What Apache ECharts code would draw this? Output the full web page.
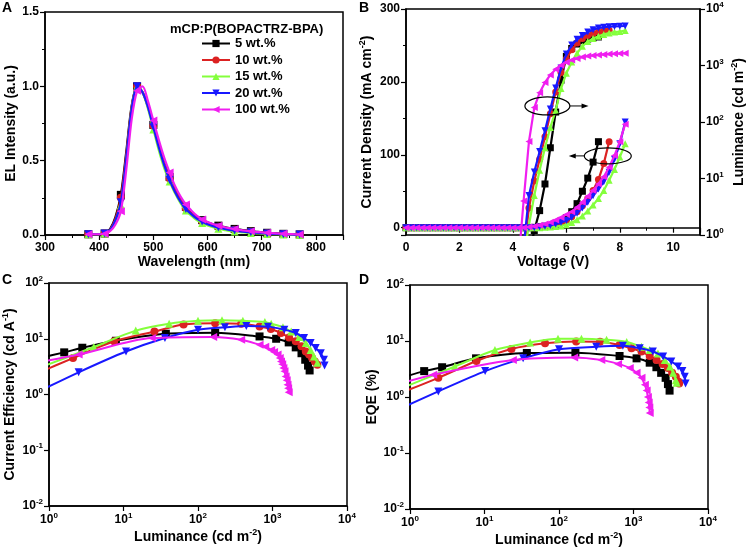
<!DOCTYPE html>
<html lang="en">
<head>
<meta charset="UTF-8">
<title>mCP:P(BOPACTRZ-BPA) devices</title>
<script src="https://cdn.jsdelivr.net/npm/echarts@6/dist/echarts.min.js"></script>
<style>body { margin: 0; background: #fff; }</style>
</head>
<body>
<div id="main" style="width: 747px; height: 548px"></div>
<script>
var names = ['5 wt.%', '10 wt.%', '15 wt.%', '20 wt.%', '100 wt.%'];
var colors = ['#000000', '#dc2222', '#84ff3c', '#1818ff', '#f01ef0'];
var symbols = ['rect', 'circle', 'triangle', 'triangle', 'triangle'];
var rotates = [0, 0, 0, 180, 90];

// A: EL spectra (10 nm steps, markers every 30 nm)
var wavelength = [380, 390, 400, 410, 420, 430, 440, 450, 460, 470, 480, 490, 500, 510, 520, 530, 540, 550, 560, 570,
    580, 590, 600, 610, 620, 630, 640, 650, 660, 670, 680, 690, 700, 710, 720, 730, 740, 750, 760, 770];
var elBlack = [0.005, 0.005, 0.005, 0.01, 0.04, 0.12, 0.27, 0.56, 0.87, 1.0, 0.96, 0.87, 0.74, 0.61, 0.49, 0.39, 0.31, 0.24, 0.19, 0.155,
    0.125, 0.10, 0.085, 0.072, 0.063, 0.055, 0.047, 0.041, 0.036, 0.031, 0.026, 0.022, 0.018, 0.015, 0.012, 0.01, 0.008, 0.006, 0.005, 0.004];
var elRed = [0.005, 0.005, 0.005, 0.01, 0.035, 0.11, 0.25, 0.54, 0.86, 1.0, 0.96, 0.86, 0.735, 0.60, 0.48, 0.38, 0.30, 0.235, 0.18, 0.145,
    0.115, 0.095, 0.078, 0.066, 0.056, 0.048, 0.041, 0.035, 0.03, 0.026, 0.022, 0.018, 0.015, 0.012, 0.01, 0.008, 0.006, 0.005, 0.004, 0.003];
var elGreen = [0.005, 0.005, 0.005, 0.01, 0.03, 0.09, 0.20, 0.50, 0.85, 1.0, 0.96, 0.85, 0.71, 0.57, 0.45, 0.36, 0.28, 0.215, 0.165, 0.13,
    0.10, 0.08, 0.064, 0.052, 0.042, 0.035, 0.028, 0.023, 0.019, 0.016, 0.013, 0.011, 0.009, 0.007, 0.006, 0.005, 0.004, 0.003, 0.003, 0.002];
var elBlue = [0.005, 0.005, 0.005, 0.01, 0.032, 0.10, 0.22, 0.52, 0.85, 1.0, 0.96, 0.86, 0.725, 0.59, 0.47, 0.37, 0.29, 0.225, 0.175, 0.14,
    0.11, 0.09, 0.072, 0.06, 0.05, 0.042, 0.035, 0.03, 0.025, 0.021, 0.018, 0.015, 0.012, 0.01, 0.008, 0.007, 0.005, 0.004, 0.003, 0.003];
var elMagenta = [0.005, 0.005, 0.005, 0.008, 0.025, 0.07, 0.16, 0.44, 0.78, 0.97, 1.0, 0.90, 0.77, 0.64, 0.52, 0.42, 0.33, 0.26, 0.205, 0.165,
    0.13, 0.105, 0.088, 0.074, 0.063, 0.054, 0.046, 0.04, 0.034, 0.029, 0.025, 0.021, 0.018, 0.015, 0.012, 0.01, 0.008, 0.006, 0.005, 0.004];

// B: current density (mA/cm2) at each voltage step
var volts = [0, 0.2, 0.4, 0.6, 0.8, 1.0, 1.2, 1.4, 1.6, 1.8, 2.0, 2.2, 2.4, 2.6, 2.8, 3.0, 3.2, 3.4, 3.6, 3.8, 4.0,
    4.2, 4.4, 4.6, 4.8, 5.0, 5.2, 5.4, 5.6, 5.8, 6.0, 6.2, 6.4, 6.6, 6.8, 7.0, 7.2, 7.4, 7.6, 7.8, 8.0, 8.2];
var jBlack = [0, 0, 0, 0, 0, 0, 0, 0, 0, 0, 0, 0, 0, 0, 0, 0, 0, 0, 0, 0, 0, 0, 0, 0,
    0.5, 1, 2, 3, 5, 9, 14, 22, 33, 50, 68, 90, 118];
var jRed = [0, 0, 0, 0, 0, 0, 0, 0, 0, 0, 0, 0, 0, 0, 0, 0, 0, 0, 0, 0, 0, 0, 0, 0, 0,
    1, 1.5, 3, 4.5, 7, 10, 15, 22, 30, 40, 51, 66, 88, 118];
var jGreen = [0, 0, 0, 0, 0, 0, 0, 0, 0, 0, 0, 0, 0, 0, 0, 0, 0, 0, 0, 0, 0, 0, 0, 0, 0, 0,
    0.5, 1, 1.5, 2.5, 4, 7, 11, 16, 23, 31, 40, 51, 65, 80, 97, 115];
var jBlue = [0, 0, 0, 0, 0, 0, 0, 0, 0, 0, 0, 0, 0, 0, 0, 0, 0, 0, 0, 0, 0, 0, 0, 0, 0,
    1, 2, 3, 5, 7, 10, 14, 20, 27, 35, 44, 53, 63, 76, 94, 115, 145];
var jMagenta = [0, 0, 0, 0, 0, 0, 0, 0, 0, 0, 0, 0, 0, 0, 0, 0, 0, 0, 0, 0, 0, 0, 0,
    1, 2, 3.5, 5, 7.5, 10.5, 14, 18, 22, 28, 35, 43, 51, 60, 70, 83, 99, 118, 142];

// B: luminance (cd/m2) vs voltage
var lBlack = [[4.6, 0.4], [4.8, 1.2], [5.0, 2.7], [5.2, 8], [5.4, 35], [5.6, 150], [5.8, 550], [6.0, 1450],
    [6.2, 2000], [6.4, 2400], [6.6, 2750], [6.8, 2950], [7.0, 3100], [7.2, 3200]];
var lRed = [[4.4, 0.5], [4.6, 3], [4.8, 9], [5.0, 22], [5.2, 55], [5.4, 140], [5.6, 340], [5.8, 750], [6.0, 1300],
    [6.2, 1900], [6.4, 2500], [6.6, 3000], [6.8, 3400], [7.0, 3700], [7.2, 3900], [7.4, 4100], [7.6, 4200]];
var lGreen = [[4.4, 0.4], [4.6, 1.5], [4.8, 5], [5.0, 14], [5.2, 35], [5.4, 80], [5.6, 160], [5.8, 390], [6.0, 730],
    [6.2, 1150], [6.4, 1650], [6.6, 2200], [6.8, 2650], [7.0, 3000], [7.2, 3300], [7.4, 3550], [7.6, 3750],
    [7.8, 3900], [8.0, 4000], [8.2, 4150]];
var lBlue = [[4.4, 0.6], [4.6, 5], [4.8, 13], [5.0, 30], [5.2, 70], [5.4, 170], [5.6, 400], [5.8, 900], [6.0, 1600],
    [6.2, 2300], [6.4, 2900], [6.6, 3400], [6.8, 3900], [7.0, 4300], [7.2, 4600], [7.4, 4750], [7.6, 4850],
    [7.8, 4900], [8.0, 4950], [8.2, 5000]];
var lMagenta = [[4.2, 0.3], [4.4, 4], [4.6, 45], [4.8, 180], [5.0, 330], [5.2, 500], [5.4, 680], [5.6, 860], [5.8, 1010],
    [6.0, 1140], [6.2, 1250], [6.4, 1330], [6.6, 1410], [6.8, 1470], [7.0, 1510], [7.2, 1540], [7.4, 1570],
    [7.6, 1590], [7.8, 1610], [8.0, 1630], [8.2, 1650]];

// C: current efficiency (cd/A) vs luminance
var ceBlack = [[0.6, 4.2], [1.6, 5.7], [2.8, 6.9], [7.9, 9.2], [37, 12.3], [170, 12.8], [670, 11], [1120, 10],
    [1650, 8.6], [2050, 7], [2450, 5.5], [2750, 4.2], [3000, 3.3], [3150, 2.7]];
var ceRed = [[0.6, 2.2], [2.1, 4.5], [7.5, 9], [26, 13.5], [64, 18], [170, 19], [380, 18.5], [670, 16.6], [950, 15],
    [1300, 12.7], [1670, 10.5], [2050, 9], [2450, 7.3], [2800, 5.9], [3100, 5.2], [3400, 4.5], [3700, 3.9], [4000, 3.4]];
var ceGreen = [[0.6, 2.7], [4, 7.1], [14.6, 14], [41, 18.6], [100, 21], [210, 21.5], [400, 21], [790, 20], [960, 18.6],
    [1380, 16], [1780, 13.5], [2280, 10.7], [2800, 8.4], [3250, 6.3], [3600, 4.8], [4000, 3.7]];
var ceBlue = [[0.6, 1.0], [2.5, 2.5], [10.8, 5.9], [36, 10.3], [100, 14.5], [230, 16], [445, 17], [870, 16.5],
    [1440, 14.5], [2050, 12.7], [2650, 10.3], [3250, 8.4], [3800, 6.8], [4450, 5.5], [4900, 4.2], [5000, 3.3]];
var ceMagenta = [[0.6, 3.6], [2.5, 5.2], [24, 10.3], [160, 10.8], [380, 9.6], [670, 7.8], [800, 7.2], [960, 6.3],
    [1050, 5.8], [1170, 5.2], [1250, 4.5], [1300, 3.9], [1350, 3.5], [1400, 3], [1450, 2.6], [1500, 2.1],
    [1550, 1.8], [1590, 1.5], [1620, 1.3], [1650, 1.1]];

// D: EQE (%) vs luminance
var eqeBlack = [[0.6, 2.0], [1.55, 2.9], [2.7, 3.4], [7.7, 4.9], [37, 6.1], [166, 6.2], [650, 5.4], [1100, 4.9],
    [1650, 4.1], [2030, 3.4], [2350, 2.7], [2700, 2.2], [2900, 1.7], [3050, 1.3]];
var eqeRed = [[0.6, 1.05], [2.4, 2.2], [7.8, 4.4], [23, 7.2], [65, 9.1], [170, 9.8], [355, 9.7], [650, 8.5], [940, 7.4],
    [1280, 6.5], [1650, 5.4], [2040, 4.6], [2460, 3.9], [2900, 3.3], [3300, 2.7], [3700, 2.3], [4000, 1.9], [4100, 1.75]];
var eqeGreen = [[0.6, 1.25], [4, 3.5], [13.8, 6.9], [41, 9.4], [97, 11], [200, 11], [435, 10.5], [810, 9.6],
    [1280, 7.9], [1650, 6.9], [2130, 6.0], [2630, 4.6], [3080, 3.5], [3400, 2.7], [3700, 2.0], [3800, 1.8]];
var eqeBlue = [[0.6, 0.55], [2.4, 1.26], [10.2, 2.9], [33, 4.9], [100, 7.1], [316, 7.9], [720, 8.2], [1210, 7.4],
    [1820, 6.5], [2500, 5.3], [3220, 4.3], [3970, 3.5], [4530, 2.9], [4870, 2.3], [5000, 1.75]];
var eqeMagenta = [[0.6, 1.6], [2.05, 2.5], [24, 4.6], [160, 5.1], [370, 4.6], [620, 3.9], [890, 3.3], [1100, 2.7],
    [1280, 2.2], [1420, 1.65], [1500, 1.3], [1560, 1.0], [1600, 0.8], [1630, 0.65], [1650, 0.52]];

var elData = [elBlack, elRed, elGreen, elBlue, elMagenta];
var jData = [jBlack, jRed, jGreen, jBlue, jMagenta];
var lData = [lBlack, lRed, lGreen, lBlue, lMagenta];
var ceData = [ceBlack, ceRed, ceGreen, ceBlue, ceMagenta];
var eqeData = [eqeBlack, eqeRed, eqeGreen, eqeBlue, eqeMagenta];

var font = 'Liberation Sans, Arial, sans-serif';
var supRich = {
    b: { fontSize: 12, fontWeight: 'bold', fontFamily: font, color: '#000' },
    sup: { fontSize: 8, fontWeight: 'bold', fontFamily: font, color: '#000', padding: [0, 0, 8, 0] }
};
var nameRich = {
    n: { fontSize: 14, fontWeight: 'bold', fontFamily: font, color: '#000' },
    sup: { fontSize: 9, fontWeight: 'bold', fontFamily: font, color: '#000', padding: [0, 0, 9, 0] }
};

function logLabel(v) {
    return '{b|10}{sup|' + Math.round(Math.log10(v)) + '}';
}

function linAxis(grid, opts) {
    var ax = {
        type: 'value', gridIndex: grid,
        axisLine: { lineStyle: { color: '#000', width: 1.5 } },
        axisTick: { inside: false, length: 5, lineStyle: { color: '#000', width: 1.2 } },
        minorTick: { show: true, splitNumber: 2, length: 3, lineStyle: { color: '#000' } },
        splitLine: { show: false },
        axisLabel: { color: '#000', fontSize: 12, fontWeight: 'bold', fontFamily: font, margin: 7 },
        nameLocation: 'middle',
        nameTextStyle: { color: '#000', fontSize: 14, fontWeight: 'bold', fontFamily: font, rich: nameRich }
    };
    return Object.assign(ax, opts);
}

function logAxis(grid, opts) {
    var ax = {
        type: 'log', logBase: 10, gridIndex: grid,
        axisLine: { lineStyle: { color: '#000', width: 1.5 } },
        axisTick: { inside: false, length: 5, lineStyle: { color: '#000', width: 1.2 } },
        splitLine: { show: false },
        axisLabel: { formatter: logLabel, rich: supRich, margin: 6 },
        nameLocation: 'middle',
        nameTextStyle: { color: '#000', fontSize: 14, fontWeight: 'bold', fontFamily: font, rich: nameRich }
    };
    return Object.assign(ax, opts);
}

function styled(i, s) {
    s.name = names[i];
    s.type = 'line';
    s.color = colors[i];
    s.symbol = symbols[i];
    s.symbolRotate = rotates[i];
    s.showAllSymbol = true;
    s.clip = true;
    s.z = 2 + i;
    return s;
}

var series = [];
elData.forEach(function (vals, i) {
    series.push(styled(i, {
        xAxisIndex: 0, yAxisIndex: 0, smooth: 0.3,
        data: wavelength.map(function (w, k) { return [w, vals[k]]; }),
        symbolSize: function (v, p) { return p.dataIndex % 3 === 0 ? 8 : 0; },
        lineStyle: { width: 2.2 }
    }));
});
jData.forEach(function (vals, i) {
    series.push(styled(i, {
        xAxisIndex: 1, yAxisIndex: 1, symbolSize: 7,
        data: vals.map(function (j, k) { return [volts[k], j]; }),
        lineStyle: { width: 2.2 }
    }));
});
lData.forEach(function (vals, i) {
    series.push(styled(i, {
        xAxisIndex: 1, yAxisIndex: 2, symbolSize: 7, data: vals,
        lineStyle: { width: 2.2 }
    }));
});
ceData.forEach(function (vals, i) {
    series.push(styled(i, {
        xAxisIndex: 2, yAxisIndex: 3, symbolSize: 8, smooth: 0.3, data: vals,
        lineStyle: { width: 2 }
    }));
});
eqeData.forEach(function (vals, i) {
    series.push(styled(i, {
        xAxisIndex: 3, yAxisIndex: 4, symbolSize: 8, smooth: 0.3, data: vals,
        lineStyle: { width: 2 }
    }));
});

var gridStyle = { show: true, borderColor: '#000', borderWidth: 1.5, containLabel: false };
var panelTitle = { fontSize: 14, fontWeight: 'bold', fontFamily: font, color: '#000' };

var myChart = echarts.init(document.getElementById('main'));
myChart.setOption({
    animation: false,
    backgroundColor: '#fff',
    textStyle: { fontFamily: font },
    title: [
        { text: 'A', left: 2, top: 1, padding: 0, textStyle: panelTitle },
        { text: 'B', left: 359, top: 1, padding: 0, textStyle: panelTitle },
        { text: 'C', left: 2, top: 273, padding: 0, textStyle: panelTitle },
        { text: 'D', left: 359, top: 273, padding: 0, textStyle: panelTitle },
        { text: 'mCP:P(BOPACTRZ-BPA)', left: 170, top: 23, padding: 0,
          textStyle: { fontSize: 13, fontWeight: 'bold', fontFamily: font, color: '#000' } }
    ],
    legend: {
        data: names, orient: 'vertical', left: 201, top: 37, padding: 0,
        itemWidth: 28, itemHeight: 9, itemGap: 3.5,
        textStyle: { fontSize: 13, fontWeight: 'bold', fontFamily: font, color: '#000' }
    },
    grid: [
        Object.assign({ left: 45, top: 12, width: 298, height: 223 }, gridStyle),
        Object.assign({ left: 406, top: 9, width: 297, height: 226 }, gridStyle),
        Object.assign({ left: 46, top: 283, width: 301, height: 223 }, gridStyle),
        Object.assign({ left: 410, top: 285, width: 298, height: 225 }, gridStyle)
    ],
    xAxis: [
        linAxis(0, { min: 300, max: 850, interval: 100, name: 'Wavelength (nm)', nameGap: 18,
            axisLabel: { color: '#000', fontSize: 12, fontWeight: 'bold', fontFamily: font, margin: 7,
                formatter: function (v) { return v > 800 ? '' : v; } } }),
        linAxis(1, { min: 0, max: 11, interval: 2, name: 'Voltage (V)', nameGap: 18,
            axisLabel: { color: '#000', fontSize: 12, fontWeight: 'bold', fontFamily: font, margin: 7,
                formatter: function (v) { return v > 10 ? '' : v; } } }),
        logAxis(2, { min: 1, max: 10000, name: '{n|Luminance (cd m}{sup|-2}{n|)}', nameGap: 22 }),
        logAxis(3, { min: 1, max: 10000, name: '{n|Luminance (cd m}{sup|-2}{n|)}', nameGap: 22 })
    ],
    yAxis: [
        linAxis(0, { min: 0, max: 1.5, interval: 0.5, name: 'EL Intensity (a.u.)', nameGap: 27,
            axisLabel: { color: '#000', fontSize: 12, fontWeight: 'bold', fontFamily: font, margin: 6,
                formatter: function (v) { return v.toFixed(1); } } }),
        linAxis(1, { min: -10, max: 300, splitNumber: 3, name: '{n|Current Density (mA cm}{sup|-2}{n|)}', nameGap: 30,
            axisLabel: { color: '#000', fontSize: 12, fontWeight: 'bold', fontFamily: font, margin: 6,
                formatter: function (v) { return v < 0 ? '' : v; } } }),
        logAxis(1, { min: 1, max: 10000, position: 'right', name: '{n|Luminance (cd m}{sup|-2}{n|)}', nameGap: 30,
            nameRotate: 90 }),
        logAxis(2, { min: 0.01, max: 100, name: '{n|Current Efficiency (cd A}{sup|-1}{n|)}', nameGap: 30 }),
        logAxis(3, { min: 0.01, max: 100, name: '{n|EQE (%)}', nameGap: 30 })
    ],
    series: series
});

// ellipses with arrows marking which axis each group of curves uses (panel B)
function ellipseMark(center, rx, ry, toV, dir) {
    var c = myChart.convertToPixel({ xAxisIndex: 1, yAxisIndex: 1 }, center);
    var end = myChart.convertToPixel({ xAxisIndex: 1, yAxisIndex: 1 }, [toV, center[1]]);
    var startX = c[0] + dir * rx;
    var tip = end[0];
    return [
        { type: 'ellipse', shape: { cx: c[0], cy: c[1], rx: rx, ry: ry }, style: { fill: null, stroke: '#000', lineWidth: 1.2 }, z: 20 },
        { type: 'line', shape: { x1: startX, y1: c[1], x2: tip - dir * 5, y2: c[1] }, style: { stroke: '#000', lineWidth: 1 }, z: 20 },
        { type: 'polygon', shape: { points: [[tip, c[1]], [tip - dir * 7, c[1] - 2.5], [tip - dir * 7, c[1] + 2.5]] }, style: { fill: '#000' }, z: 20 }
    ];
}
myChart.setOption({
    graphic: ellipseMark([5.29, 167], 22.5, 9, 6.83, 1).concat(ellipseMark([7.55, 98.5], 23.5, 8, 6.09, -1))
});
</script>
</body>
</html>
